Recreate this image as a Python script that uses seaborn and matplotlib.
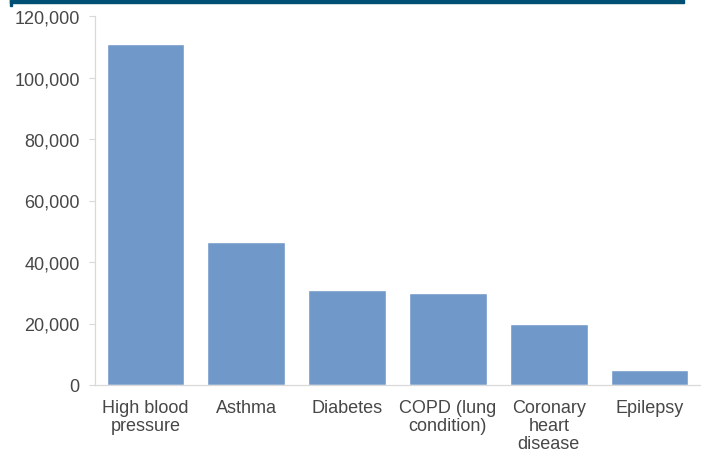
import matplotlib
matplotlib.use("Agg")
import matplotlib.pyplot as plt
import matplotlib.patches as mpatches
from matplotlib.ticker import FuncFormatter
import seaborn as sns
import pandas as pd

categories = ["High blood\npressure", "Asthma", "Diabetes", "COPD (lung\ncondition)",
              "Coronary\nheart\ndisease", "Epilepsy"]
values = [111000, 46500, 31000, 30000, 20000, 5000]
yticks = [0, 20000, 40000, 60000, 80000, 100000, 120000]

sns.set_theme(style="white")
plt.rcParams['font.family'] = ['Liberation Sans', 'DejaVu Sans']

df = pd.DataFrame({"condition": categories, "patients": values})

fig = plt.figure(figsize=(7.01, 4.52), dpi=100)
ax = fig.add_axes([95/701, 1-386/452, 605/701, 369/452])

sns.barplot(data=df, x="condition", y="patients", color="#7099CA", saturation=1,
            width=0.77, ax=ax)

ax.set_xlim(-0.5, len(categories) - 0.5)
ax.set_ylim(0, 120000)
ax.set_yticks(yticks)
ax.yaxis.set_major_formatter(FuncFormatter(lambda v, p: f"{int(v):,}"))
ax.set_xlabel("")
ax.set_ylabel("")

text_color = "#474747"
ax.tick_params(axis="y", which="major", length=4, width=0.8, color="#D9D9D9",
               labelsize=13, labelcolor=text_color, pad=7, left=True)
ax.tick_params(axis="x", length=0, labelsize=13, labelcolor=text_color, pad=10)
for lbl in ax.get_xticklabels():
    lbl.set_linespacing(1.08)

for side in ["top", "right"]:
    ax.spines[side].set_visible(False)
for side in ["left", "bottom"]:
    ax.spines[side].set_color("#D9D9D9")
    ax.spines[side].set_linewidth(0.9)

# dark header band at top
fig.patches.append(mpatches.Rectangle((10/701, 1-4/452), 674/701, 4/452,
                                      transform=fig.transFigure, color="#005074",
                                      zorder=5))
fig.patches.append(mpatches.Rectangle((10/701, 1-7/452), 1.6/701, 7/452,
                                      transform=fig.transFigure, color="#005074",
                                      zorder=5))

fig.savefig("out.png", dpi=100)
